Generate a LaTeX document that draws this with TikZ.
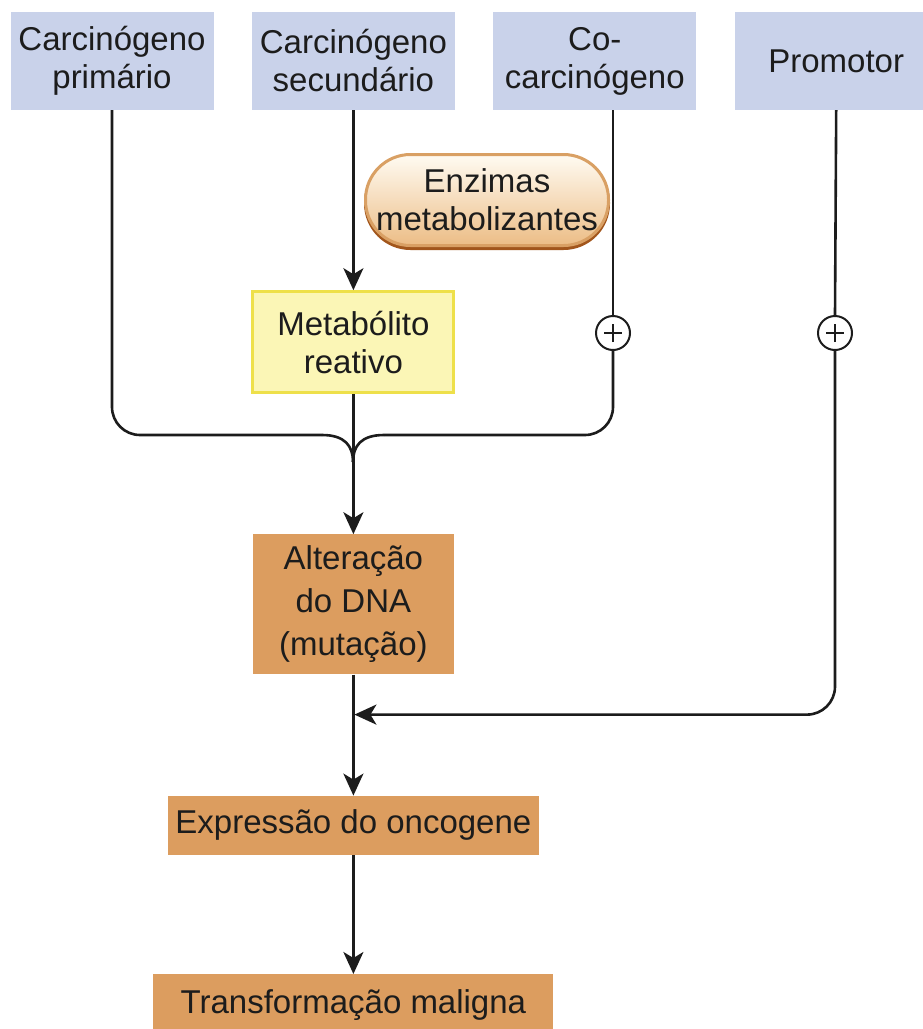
\documentclass[tikz,border=0pt]{standalone}
\usepackage{fontspec}
\setmainfont{Liberation Sans}
\usetikzlibrary{arrows.meta,positioning}
\definecolor{srcblue}{HTML}{C9D2EA}
\definecolor{metfill}{HTML}{FBF6B6}
\definecolor{metedge}{HTML}{EEE04A}
\definecolor{dnaorange}{HTML}{DC9D5F}
\definecolor{pilltop}{HTML}{FFFBF2}
\definecolor{pillbot}{HTML}{ECBD86}
\definecolor{pilledge}{HTML}{D9A064}
\definecolor{pillshade}{HTML}{A2561C}
\definecolor{ink}{HTML}{1C1C1C}

\begin{document}
\begin{tikzpicture}[x=1pt,y=-1pt,
node distance=38pt,
every node/.style={text=ink,inner sep=0pt},
source/.style={fill=srcblue,align=center,minimum width=203pt,minimum height=98pt,font=\fontsize{33}{38}\selectfont},
metab/.style={fill=metfill,draw=metedge,line width=3pt,align=center,minimum width=201pt,minimum height=101pt,font=\fontsize{33}{38}\selectfont},
stage/.style={fill=dnaorange,align=center,minimum height=59pt,font=\fontsize{33}{43}\selectfont},
enzyme/.style={top color=pilltop,bottom color=pillbot,draw=pilledge,line width=3pt,rounded corners=45pt,
  preaction={fill=pillshade,draw=pillshade,transform canvas={yshift=-3pt}},
  align=center,minimum width=243pt,minimum height=91pt,font=\fontsize{33}{38}\selectfont},
plus/.style={circle,draw=ink,line width=2pt,fill=white,minimum size=34pt,
  path picture={\draw[line width=2.4pt] (path picture bounding box.center) +(-9pt,0) -- +(9pt,0) +(0,-9pt) -- +(0,9pt);}},
conn/.style={draw=ink,line width=2.6pt},
arrow/.style={conn,-{Stealth[length=22pt,width=20pt,inset=6pt]}}
]
\useasboundingbox (0,0) rectangle (922,1029);

% top row
\node[source] (prim) at (112,61) {Carcinógeno\\primário};
\node[source,right=of prim] (sec) {Carcinógeno\\secundário};
\node[source,right=of sec] (co) {Co-\\carcinógeno};
\node[source,right=of co] (promo) {Promotor};

% main chain
\node[metab,below=180pt of sec] (met) {Metabólito\\reativo};
\node[stage,minimum width=201pt,minimum height=140pt,below=140pt of met] (dna) {Alteração\\do DNA\\(mutação)};
\node[stage,minimum width=371pt,below=121pt of dna] (onc) {Expressão do oncogene};
\node[stage,minimum width=400pt,minimum height=62pt,below=119pt of onc] (mal) {Transformação maligna};

\node[enzyme] (enz) at (487,200) {Enzimas\\metabolizantes};
\node[plus] (plusA) at (613,333) {};
\node[plus] (plusB) at (835,333) {};

\coordinate (merge) at (353,462);
\coordinate (bendL) at (322,435);
\coordinate (bendR) at (384,435);
\coordinate (join) at ([yshift=-40pt]dna.south);

\draw[arrow] (sec.south) -- (met.north);
\draw[arrow] (met.south) -- (dna.north);
\draw[conn,rounded corners=28pt] (prim.south) |- (bendL);
\draw[conn] (bendL) .. controls (345,435) and (353,446) .. (merge);
\draw[conn] (plusA |- co.south) -- (plusA.north);
\draw[conn,rounded corners=28pt] (plusA.south) |- (bendR);
\draw[conn] (bendR) .. controls (361,435) and (353,446) .. (merge);
\draw[conn] (promo.south) -- (plusB.north);
\draw[arrow,rounded corners=28pt] (plusB.south) |- ([xshift=1pt]join);
\draw[arrow] (dna.south) -- (onc.north);
\draw[arrow] (onc.south) -- (mal.north);
\end{tikzpicture}
\end{document}
